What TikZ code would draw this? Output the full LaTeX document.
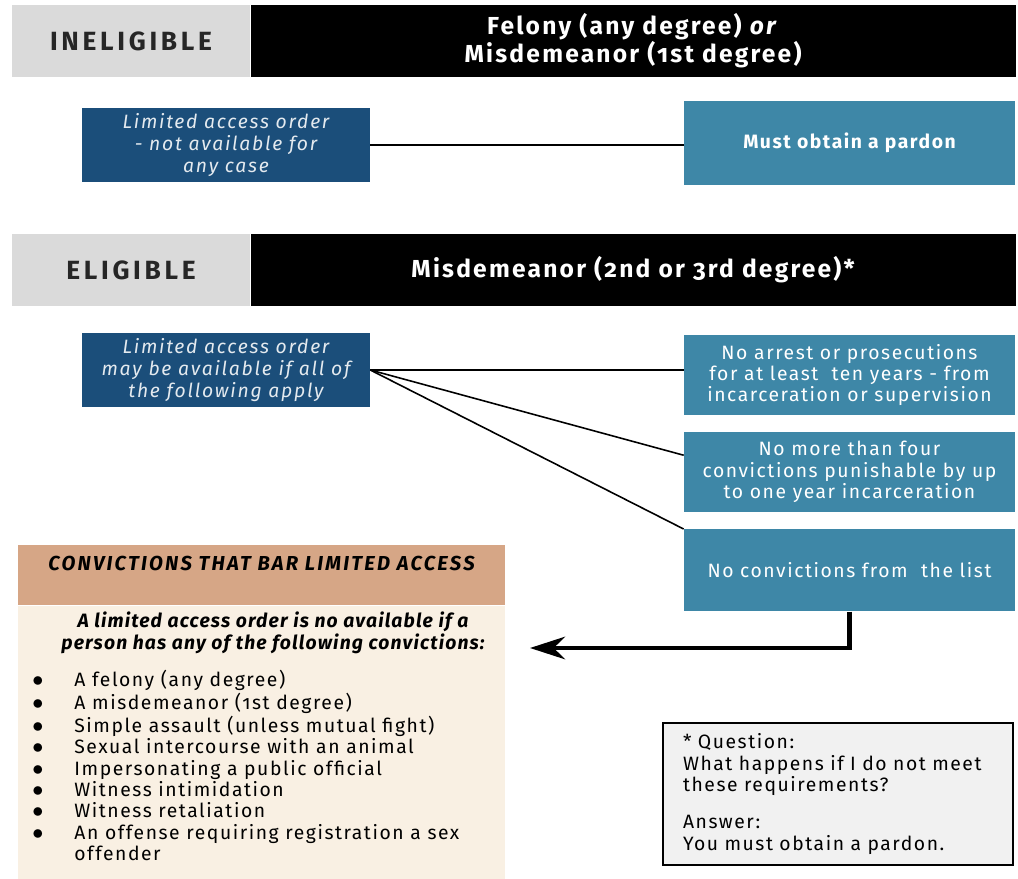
\documentclass[tikz,border=0pt]{standalone}
\usepackage{fontspec}
\setmainfont{Fira Sans}[Numbers=OldStyle, LetterSpace=8]
\usepackage{tikz}
\usetikzlibrary{positioning,calc,arrows.meta}
\definecolor{orderblue}{RGB}{27,78,122}
\definecolor{condteal}{RGB}{62,135,167}
\definecolor{bartan}{RGB}{214,166,134}
\definecolor{barcream}{RGB}{249,240,227}
\definecolor{taggray}{RGB}{218,218,218}
\definecolor{notegray}{RGB}{241,241,241}

\begin{document}
\begin{tikzpicture}[
    x=0.02cm, y=-0.02cm,
    node distance=0.33cm,
    tag/.style={rectangle, fill=taggray, text=black!85, minimum width=4.76cm, minimum height=1.44cm, font=\fontsize{15}{18}\selectfont\bfseries\addfontfeatures{LetterSpace=14}},
    headbar/.style={rectangle, fill=black, text=white, minimum width=15.3cm, minimum height=1.44cm, align=center, font=\fontsize{14}{16}\selectfont\bfseries\addfontfeatures{LetterSpace=9}},
    order/.style={rectangle, fill=orderblue, text=white!88!orderblue, minimum width=5.76cm, minimum height=1.45cm, align=center, font=\fontsize{11}{12.4}\selectfont\itshape\addfontfeatures{LetterSpace=9}},
    cond/.style={rectangle, fill=condteal, text=white, minimum width=6.62cm, minimum height=1.6cm, align=center, font=\fontsize{11}{12.2}\selectfont},
    convhead/.style={rectangle, fill=bartan, minimum width=9.74cm, inner ysep=0.15cm, text height=0.35cm, text depth=0.55cm, font=\fontsize{11.5}{13}\selectfont\bfseries\itshape\addfontfeatures{LetterSpace=11}},
    convbody/.style={rectangle, fill=barcream, minimum width=9.74cm, minimum height=5.48cm},
    note/.style={rectangle, draw=black, line width=1.2pt, fill=notegray, minimum width=7cm, minimum height=2.84cm, text width=6.2cm, align=left, font=\fontsize{11}{12.2}\selectfont},
    link/.style={line width=0.9pt},
    bigarrow/.style={line width=2.8pt, -{Stealth[length=7mm,width=4.5mm]}}
]
\useasboundingbox (0,0) rectangle (1018,879);
\newcommand{\barbullet}{\scalebox{1.15}{$\bullet$}}

% ineligible
\node[tag] (inelig) at (131,41) {INELIGIBLE};
\node[headbar, right=0pt of inelig] (felony) {Felony (any degree) \textit{or}\\Misdemeanor (1st degree)};
\node[order] (orderA) at (226,145) {Limited access order\\- not available for\\any case};
\node[cond, minimum height=1.7cm] (pardon) at (849.5,143) {\bfseries Must obtain a pardon};

% eligible
\node[tag] (elig) at (131,270) {ELIGIBLE};
\node[headbar, right=0pt of elig] (misd) {Misdemeanor (2nd or 3rd degree)*};
\node[order] (orderB) at (226,370) {Limited access order\\may be available if all of\\the following apply};
\node[cond] (condA) at (849.5,375) {No arrest or prosecutions\\for at least\ \ ten years - from\\incarceration or supervision};
\node[cond, below=of condA] (condB) {No more than four\\convictions punishable by up\\to one year incarceration};
\node[cond, minimum height=1.64cm, below=of condB] (condC) {No convictions from\ \ the list};

\draw[link] (orderA.east) -- (orderA.east -| pardon.west);
\draw[link] (orderB.east) -- (orderB.east -| condA.west);
\draw[link] (orderB.east) -- ($(condB.north west)!0.29!(condB.south west)$);
\draw[link] (orderB.east) -- (condC.north west);

% barred convictions
\node[convhead] (barhead) at (261.5,575) {CONVICTIONS THAT BAR LIMITED ACCESS};
\node[convbody, below=0pt of barhead] (barbody) {};
\node[font=\fontsize{11}{12.6}\selectfont\bfseries\itshape\addfontfeatures{LetterSpace=6}, align=center] (barsub) at (273,633) {A limited access order is no available if a\\person has any of the following convictions:};
\node[anchor=north west, inner sep=0pt, font=\fontsize{11}{12.1}\selectfont] (barlist) at (32,670) {%
  \begin{tabular}{@{}l@{\hspace{0.62cm}}l@{}}
  \barbullet & A felony (any degree)\\
  \barbullet & A misdemeanor (1st degree)\\
  \barbullet & Simple assault (unless mutual fight)\\
  \barbullet & Sexual intercourse with an animal\\
  \barbullet & Impersonating a public official\\
  \barbullet & Witness intimidation\\
  \barbullet & Witness retaliation\\
  \barbullet & An offense requiring registration a sex\\
             & offender
  \end{tabular}};

\coordinate (barin) at (530,648);
\draw[bigarrow] (condC.south) |- (barin);

% question
\node[note] (question) at (838,794) {* Question:\\What happens if I do not meet\\these requirements?\\[0.32cm]Answer:\\You must obtain a pardon.};

\end{tikzpicture}
\end{document}
